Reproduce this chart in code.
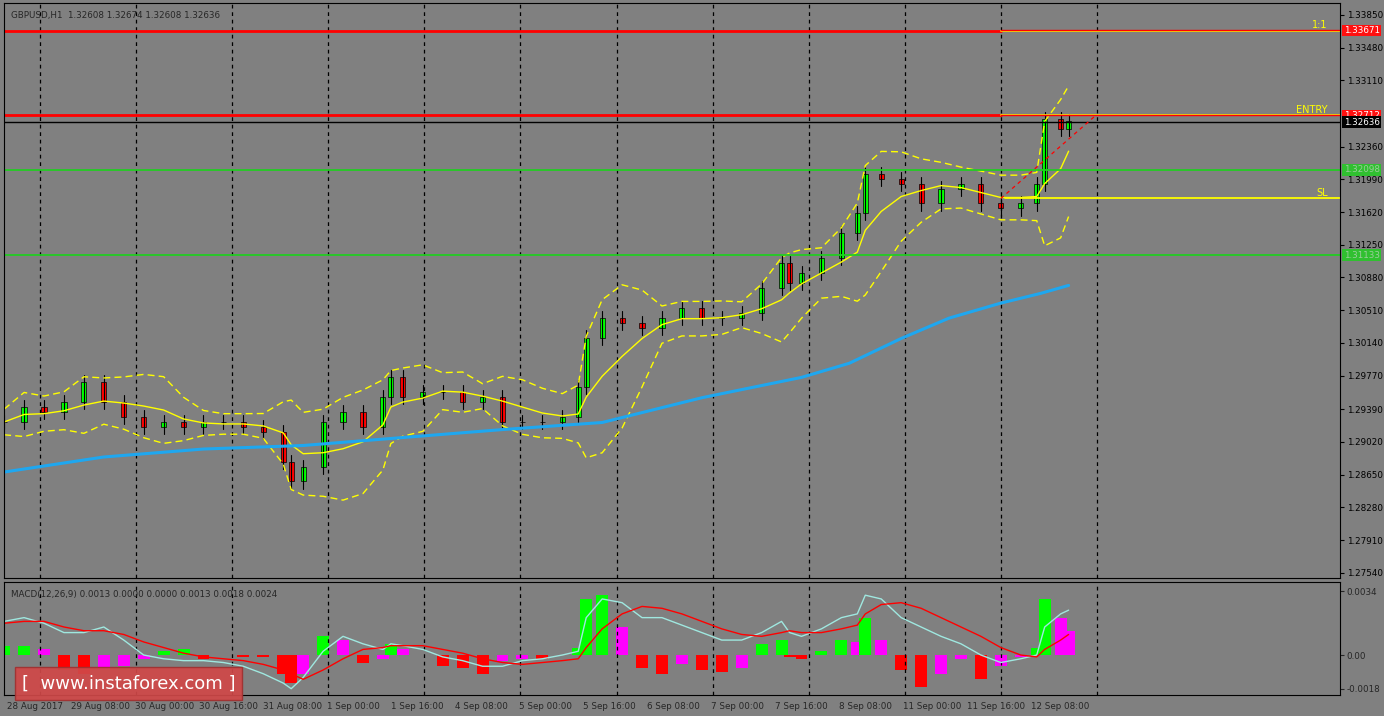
import numpy as np, pandas as pd, matplotlib
matplotlib.use("Agg")
import matplotlib.pyplot as plt, seaborn as sns
from matplotlib.patches import FancyBboxPatch

sns.set_style("dark")
plt.rcParams['font.family'] = ['DejaVu Sans']

# candle close hours (H1 bar index) and closes
hours = [0,5,10,15,20,25,30,35,40,45,50,55,60,65,70,72,75,80,85,90,95,97,100,105,110,115,120,125,130,135,140,144,146,150,155,160,165,170,175,180,185,190,195,197,200,205,210,214,216,220,225,230,235,240,245,250,255,259,261,265,267]
ys = [425,410,415,405,385,405,420,430,425,430,425,425,430,435,465,485,470,425,415,430,400,380,400,395,395,405,400,425,425,425,420,390,340,320,325,330,320,310,320,320,315,290,265,285,275,260,235,215,175,180,185,205,190,185,205,210,205,185,120,130,122]
closes = [round(1.33850-(y-15)/8906, 5) for y in ys]
ma_hours = [0,25,50,75,100,125,150,175,200,212,225,237,250,260,267]
ma_vals = [1.28680,1.28850,1.28940,1.28980,1.29070,1.29160,1.29240,1.29520,1.29750,1.29910,1.30190,1.30420,1.30590,1.30700,1.30790]
macd_hist = [0.0005,0.0005,0.0003,-0.0008,-0.0010,-0.0008,-0.0006,-0.0002,0.0002,0.0003,-0.0002,0.0000,-0.0001,-0.0001,-0.0010,-0.0015,-0.0010,0.0010,0.0008,-0.0004,-0.0002,0.0006,0.0003,0.0000,-0.0006,-0.0007,-0.0010,-0.0003,-0.0002,-0.0002,0.0000,0.0004,0.0030,0.0032,0.0015,-0.0007,-0.0010,-0.0005,-0.0008,-0.0009,-0.0007,0.0006,0.0008,-0.0001,-0.0002,0.0002,0.0008,0.0007,0.0020,0.0008,-0.0008,-0.0017,-0.0010,-0.0002,-0.0013,-0.0006,-0.0001,0.0004,0.0030,0.0020,0.0013]
macd_main = [0.0018,0.0020,0.0017,0.0012,0.0012,0.0015,0.0008,0.0000,-0.0002,-0.0003,-0.0003,-0.0004,-0.0006,-0.0010,-0.0015,-0.0018,-0.0012,0.0002,0.0010,0.0006,0.0003,0.0006,0.0005,0.0003,-0.0001,-0.0003,-0.0006,-0.0006,-0.0003,-0.0002,0.0000,0.0002,0.0020,0.0030,0.0028,0.0020,0.0020,0.0016,0.0012,0.0008,0.0008,0.0012,0.0018,0.0012,0.0010,0.0014,0.0020,0.0022,0.0032,0.0030,0.0020,0.0015,0.0010,0.0006,0.0000,-0.0004,-0.0002,0.0000,0.0015,0.0022,0.0024]
macd_sig = [0.0017,0.0018,0.0018,0.0015,0.0013,0.0013,0.0011,0.0007,0.0004,0.0001,-0.0001,-0.0002,-0.0003,-0.0005,-0.0008,-0.0010,-0.0013,-0.0008,-0.0002,0.0003,0.0004,0.0005,0.0005,0.0005,0.0003,0.0001,-0.0002,-0.0004,-0.0005,-0.0004,-0.0003,-0.0002,0.0004,0.0014,0.0022,0.0026,0.0025,0.0022,0.0018,0.0014,0.0011,0.0010,0.0012,0.0013,0.0012,0.0012,0.0014,0.0016,0.0022,0.0027,0.0028,0.0025,0.0020,0.0015,0.0010,0.0004,0.0000,-0.0001,0.0003,0.0008,0.0011]
price_ticks = [1.33850,1.33480,1.33110,1.32360,1.31990,1.31620,1.31250,1.30880,1.30510,1.30140,1.29770,1.29390,1.29020,1.28650,1.28280,1.27910,1.27540]
date_labels = ["28 Aug 2017","29 Aug 08:00","30 Aug 00:00","30 Aug 16:00","31 Aug 08:00","1 Sep 00:00","1 Sep 16:00","4 Sep 08:00","5 Sep 00:00","5 Sep 16:00","6 Sep 08:00","7 Sep 00:00","7 Sep 16:00","8 Sep 08:00","11 Sep 00:00","11 Sep 16:00","12 Sep 08:00"]
levels = {"tp": 1.33671, "entry": 1.32712, "g1": 1.32098, "g2": 1.31133, "sl": 1.31773, "last": 1.32636}

BG = "#808080"
FS = 6.3
fig = plt.figure(figsize=(13.84, 7.16), dpi=100, facecolor=BG)
ax = fig.add_axes([0.003, 0.193, 0.965, 0.803], facecolor=BG)
ax2 = fig.add_axes([0.003, 0.029, 0.965, 0.158], facecolor=BG, sharex=ax)
X0, X1 = 0, 335
ymin, ymax = 1.27540 - 5/8906, 1.33850 + 12/8906

df = pd.DataFrame({"h": hours, "c": closes})
df["o"] = df["c"].shift(1).fillna(df["c"].iloc[0])
mid = df["c"].rolling(5, min_periods=1).mean()
sd = df["c"].rolling(5, min_periods=1).std().fillna(0.0005)
for a in (ax, ax2):
    for i in range(12):
        a.axvline(9 + i*24.1, color="black", ls=(0, (3, 3)), lw=0.9)
for k in range(len(df)):
    o, c, h = df.o[k], df.c[k], df.h[k]
    hi, lo = max(o, c) + 0.0008, min(o, c) - 0.0008
    ax.plot([h, h], [lo, hi], color="black", lw=0.8)
    col = "#00ff00" if c >= o else "#ff0000"
    ax.bar(h, max(abs(c-o), 0.00005), bottom=min(o, c), width=1.3, color=col, edgecolor="black", lw=0.5)
sns.lineplot(x=df.h, y=mid + 1.5*sd + 0.0007, ax=ax, color="yellow", lw=1, ls=(0, (5, 3)))
sns.lineplot(x=df.h, y=mid - 1.5*sd - 0.0007, ax=ax, color="yellow", lw=1, ls=(0, (5, 3)))
sns.lineplot(x=df.h, y=mid, ax=ax, color="yellow", lw=1)
sns.lineplot(x=ma_hours, y=ma_vals, ax=ax, color="#1ea7f0", lw=2.2)
ax.axhline(levels["last"], color="black", lw=1)
for key in ("tp", "entry"):
    ax.plot([X0, 250], [levels[key]]*2, color="red", lw=2)
    ax.plot([250, X1], [levels[key]]*2, color="yellow", lw=1.2)
    ax.plot([250, X1], [levels[key]+0.00007]*2, color="red", lw=1)
for key in ("g1", "g2"):
    ax.axhline(levels[key], color="#22cc22", lw=1.3)
ax.plot([251, X1], [levels["sl"]]*2, color="yellow", lw=1.3)
ax.plot([250, 274], [1.31773, 1.32720], color="red", lw=0.9, ls=(0, (3, 3)))
ax.text(332, levels["tp"]+0.0001, "1:1", color="yellow", fontsize=7, ha="right", va="bottom")
ax.text(332, levels["entry"]+0.0001, "ENTRY", color="yellow", fontsize=7, ha="right", va="bottom")
ax.text(332, levels["sl"]+0.0001, "SL", color="yellow", fontsize=7, ha="right", va="bottom")
ax.set_xlim(X0, X1); ax.set_ylim(ymin, ymax)
ax.yaxis.tick_right()
ax.set_yticks(price_ticks)
ax.set_yticklabels([f"{t:.5f}" for t in price_ticks], fontsize=FS, color="black")
ax.tick_params(axis="y", length=3, color="black", pad=2)
ax.tick_params(axis="x", length=0, labelbottom=False)
for key, fc, tc in (("tp", "#ff1010", "white"), ("entry", "#ff1010", "white"), ("last", "black", "white"), ("g1", "#30c030", "#9acd9a"), ("g2", "#30c030", "#9acd9a")):
    ax.text(1.003, levels[key], f"{levels[key]:.5f}", transform=ax.get_yaxis_transform(), fontsize=FS, color=tc,
            va="center", ha="left", bbox=dict(boxstyle="square,pad=0.15", fc=fc, ec="none"), clip_on=False)
ax.text(0.005, 0.985, "GBPUSD,H1  1.32608 1.32674 1.32608 1.32636", transform=ax.transAxes, fontsize=FS, va="top")
for s in ax.spines.values(): s.set_color("black")

# MACD
prev = 0
cols = []
for v in macd_hist:
    if v >= 0: cols.append("#00ff00" if v >= prev else "#ff00ff")
    else: cols.append("#ff0000" if v <= prev else "#ff00ff")
    prev = v
ax2.bar(hours, macd_hist, width=3.0, color=cols, lw=0)
sns.lineplot(x=hours, y=macd_main, ax=ax2, color="#9fe8e0", lw=1)
sns.lineplot(x=hours, y=macd_sig, ax=ax2, color="#ff0000", lw=1)
ax2.set_ylim(-0.00215, 0.0039)
ax2.yaxis.tick_right()
ax2.set_yticks([0.0034, 0.0, -0.0018])
ax2.set_yticklabels(["0.0034", "0.00", "-0.0018"], fontsize=FS)
ax2.tick_params(axis="y", length=3, pad=2)
ax2.set_xticks([0.75 + i*16.05 for i in range(len(date_labels))])
ax2.set_xticklabels(date_labels, fontsize=FS, ha="left")
ax2.tick_params(axis="x", length=3, pad=2)
ax2.text(0.005, 0.93, "MACD(12,26,9) 0.0013 0.0000 0.0000 0.0013 0.0018 0.0024", transform=ax2.transAxes, fontsize=FS, va="top")
for s in ax2.spines.values(): s.set_color("black")
ax2.set_xlabel(""); ax2.set_ylabel(""); ax.set_xlabel(""); ax.set_ylabel("")

box = FancyBboxPatch((0.011, 0.022), 0.164, 0.046, boxstyle="square,pad=0", transform=fig.transFigure,
                     fc="#d04848", ec="#a03030", alpha=0.92, zorder=10)
fig.patches.append(box)
fig.text(0.093, 0.045, "[  www.instaforex.com ]", color="white", fontsize=13, ha="center", va="center", zorder=11)
fig.savefig("out.png", dpi=100, facecolor=BG)
